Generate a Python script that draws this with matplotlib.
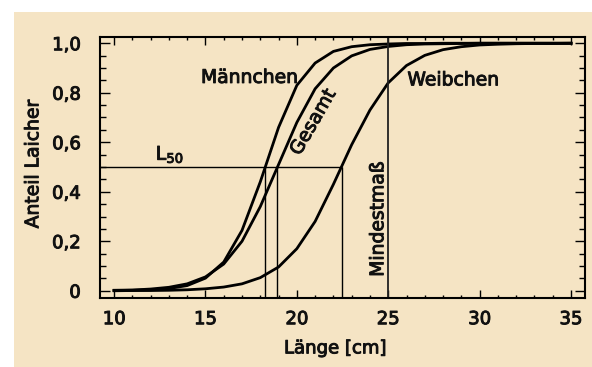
import numpy as np
import matplotlib.pyplot as plt
import matplotlib.patheffects as pe
from matplotlib.patches import Rectangle

plt.rcParams['font.family'] = ['DejaVu Sans']
plt.rcParams['mathtext.fontset'] = 'dejavusans'

# Length classes [cm] and share of spawners
laenge = [10, 11, 12, 13, 14, 15, 16, 17, 18, 19, 20, 21, 22, 23, 24, 25,
          26, 27, 28, 29, 30, 31, 32, 33, 34, 35]
maennchen = [0.001, 0.002, 0.004, 0.009, 0.021, 0.051, 0.116, 0.244, 0.44, 0.66,
             0.83, 0.92, 0.967, 0.986, 0.994, 0.997, 0.999, 0.999, 1.0, 1.0,
             1.0, 1.0, 1.0, 1.0, 1.0, 1.0]
gesamt = [0.002, 0.003, 0.007, 0.014, 0.028, 0.056, 0.108, 0.20, 0.34, 0.51,
          0.68, 0.816, 0.90, 0.949, 0.975, 0.987, 0.994, 0.997, 0.998, 0.999,
          1.0, 1.0, 1.0, 1.0, 1.0, 1.0]
weibchen = [0.0, 0.001, 0.001, 0.002, 0.004, 0.008, 0.015, 0.028, 0.053, 0.096,
            0.17, 0.28, 0.43, 0.59, 0.73, 0.84, 0.91, 0.951, 0.974, 0.986,
            0.993, 0.996, 0.998, 0.999, 0.999, 1.0]

# L50 values and minimum landing size
l50 = [18.26, 18.93, 22.45]
mindestmass = 25

bg = '#f5e4c4'
bold = [pe.withStroke(linewidth=0.7, foreground='#111111')]

fig = plt.figure(figsize=(5.92, 3.67), dpi=100)
fig.patch.set_facecolor('white')
fig.patches.append(Rectangle((14 / 592, 0), 1, (367 - 12) / 367,
                             transform=fig.transFigure, facecolor=bg,
                             edgecolor='none', zorder=-10))

ax = fig.add_axes([100 / 592, 1 - 297.7 / 367, 484.7 / 592, 260.4 / 367])
ax.set_facecolor(bg)
ax.set_xlim(9.23, 35.75)
ax.set_ylim(-0.028, 1.024)

# curves
for y in (maennchen, gesamt, weibchen):
    ax.plot(laenge, y, color='black', lw=2.0, solid_joinstyle='round')

# L50 helper lines
ax.hlines(0.5, 9.23, l50[-1], color='black', lw=1.0)
ax.vlines(l50, -0.028, 0.5, color='black', lw=1.0)
ax.axvline(mindestmass, color='#222222', lw=1.3)

# ticks
ax.set_xticks([10, 15, 20, 25, 30, 35])
ax.set_xticks(np.arange(10, 36, 1), minor=True)
ax.set_yticks([0, 0.2, 0.4, 0.6, 0.8, 1.0])
ax.set_yticks(np.arange(0, 1.01, 0.05), minor=True)
ax.set_yticklabels(['0', '0,2', '0,4', '0,6', '0,8', '1,0'])
ax.tick_params(axis='both', which='both', direction='in', top=True, right=True,
               width=1.0, labelsize=13, labelcolor='#111111')
ax.tick_params(axis='x', which='major', length=5.5, pad=9)
ax.tick_params(axis='x', which='minor', length=2.5)
ax.tick_params(axis='y', which='major', length=7.2, pad=14)
ax.tick_params(axis='y', which='minor', length=4.3)
for s in ax.spines.values():
    s.set_linewidth(1.5)
for lab in ax.get_xticklabels() + ax.get_yticklabels():
    lab.set_path_effects(bold)

ax.set_xlabel('Länge [cm]', fontsize=13, color='#111111', path_effects=bold)
ax.xaxis.set_label_coords(0.485, -0.16)
ax.set_ylabel('Anteil Laicher', fontsize=13.5, color='#111111', path_effects=bold)
ax.yaxis.set_label_coords(-0.119, 0.513)

# annotations
fs = 13.5
kw = dict(fontsize=fs, color='#111111', path_effects=bold)
ax.text(17.41, 0.862, 'Männchen', ha='center', va='center', **kw)
ax.text(28.55, 0.852, 'Weibchen', ha='center', va='center', **kw)
ax.text(20.89, 0.682, 'Gesamt', ha='center', va='center', rotation=60, **kw)
ax.text(24.95, 0.29, 'Mindestmaß', ha='right', va='center', rotation=90, **kw)
ax.text(13.06, 0.508, 'L$_{50}$', ha='center', va='bottom', **kw)

fig.savefig('out.png', dpi=100, facecolor=fig.get_facecolor())
